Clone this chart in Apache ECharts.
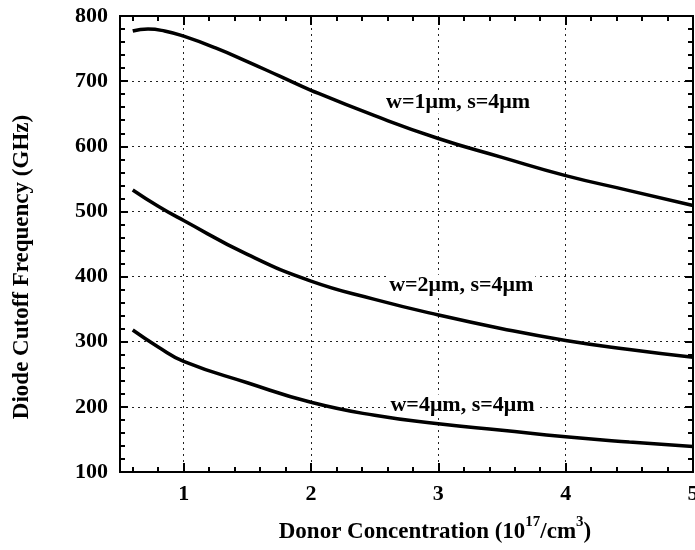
<!DOCTYPE html>
<html>
<head>
<meta charset="utf-8">
<script src="https://cdn.jsdelivr.net/npm/echarts@6/dist/echarts.min.js"></script>
<style>html,body{margin:0;padding:0;background:#fff}#c{width:695px;height:550px}</style>
</head>
<body>
<div id="c"></div>
<script>
// ---- data ----
const xMajorTicks = [1, 2, 3, 4, 5];
const xMinorTicks = [0.6, 0.8, 1.2, 1.4, 1.6, 1.8, 2.2, 2.4, 2.6, 2.8, 3.2, 3.4, 3.6, 3.8, 4.2, 4.4, 4.6, 4.8];
const w1 = [[0.6,777],[0.72,780],[0.85,777],[1,769],[1.25,751],[1.5,730],[1.75,708],[2,686],[2.5,647],[3,612],[3.5,583],[4,555],[4.5,532],[5,509]];
const w2 = [[0.6,533],[0.8,508],[1,486],[1.5,434],[2,393],[2.5,365],[3,341],[3.5,320],[4,302],[4.5,288],[5,276]];
const w4 = [[0.6,318],[0.8,292],[1,270],[1.5,237],[2,207],[2.5,187],[3,174],[3.5,164],[4,154],[4.5,146],[5,139]];
const seriesNames = ['w=1\u03bcm, s=4\u03bcm', 'w=2\u03bcm, s=4\u03bcm', 'w=4\u03bcm, s=4\u03bcm'];
const labelPos = [[3.155, 667], [3.18, 386], [3.19, 202]];

const FONT = '"Liberation Serif", "Times New Roman", serif';
const chart = echarts.init(document.getElementById('c'));

function xAx(pos, ticks, len, opts) {
  return Object.assign({
    type: 'value', position: pos, min: 0.5, max: 5,
    axisLine: { show: true, onZero: false, lineStyle: { color: '#000', width: 2 } },
    axisTick: { show: true, inside: true, length: len, customValues: ticks, lineStyle: { color: '#000', width: 2 } },
    axisLabel: { show: false },
    splitLine: { show: false }
  }, opts || {});
}
function yAx(pos, opts) {
  return Object.assign({
    type: 'value', position: pos, min: 100, max: 800, interval: 100,
    axisLine: { show: true, onZero: false, lineStyle: { color: '#000', width: 2 } },
    axisTick: { show: true, inside: true, length: 8, lineStyle: { color: '#000', width: 2 } },
    minorTick: { show: true, splitNumber: 5, length: 5, lineStyle: { color: '#000', width: 2 } },
    axisLabel: { show: false },
    splitLine: { show: false }
  }, opts || {});
}

const gridStyle = { show: true, lineStyle: { color: '#222', width: 1, type: [2, 4] } };

const lineSeries = [w1, w2, w4].map((d, i) => ({
  type: 'line', name: seriesNames[i], data: d, smooth: true, showSymbol: false, z: 3,
  lineStyle: { color: '#000', width: 3.5 }
}));
const labelSeries = {
  type: 'scatter', z: 1, symbolSize: 0, silent: true,
  itemStyle: { opacity: 1, color: '#000' },
  data: labelPos.map((p, i) => ({ value: p, name: seriesNames[i] })),
  label: { show: true, position: 'inside', opacity: 1, formatter: p => p.name, color: '#000', fontFamily: FONT, fontWeight: 'bold', fontSize: 22, backgroundColor: '#fff', padding: [0, 2] }
};

const option = {
  backgroundColor: '#fff',
  animation: false,
  grid: { left: 120, right: 2, top: 16, bottom: 78, outerBoundsMode: 'none', containLabel: false },
  xAxis: [
    xAx('bottom', xMajorTicks, 9, {
      axisLabel: { show: true, customValues: xMajorTicks, margin: 11, color: '#000', fontFamily: FONT, fontWeight: 'bold', fontSize: 22 },
      splitLine: gridStyle,
      name: 'Donor Concentration (10{sup|17}/cm{sup|3})',
      nameLocation: 'middle', nameGap: 43,
      nameTextStyle: {
        color: '#000', fontFamily: FONT, fontWeight: 'bold', fontSize: 23, lineHeight: 34, padding: [0, 0, 0, 57],
        rich: { sup: { fontSize: 15, fontFamily: FONT, fontWeight: 'bold', color: '#000', verticalAlign: 'top', lineHeight: 15 } }
      }
    }),
    xAx('bottom', xMinorTicks, 5),
    xAx('top', xMajorTicks, 9),
    xAx('top', xMinorTicks, 5)
  ],
  yAxis: [
    yAx('left', {
      axisLabel: { show: true, margin: 12, color: '#000', fontFamily: FONT, fontWeight: 'bold', fontSize: 22 },
      splitLine: gridStyle,
      name: 'Diode Cutoff Frequency (GHz)', nameLocation: 'middle', nameRotate: 90, nameGap: 86,
      nameTextStyle: { color: '#000', fontFamily: FONT, fontWeight: 'bold', fontSize: 23, padding: [0, 46, 0, 0] }
    }),
    yAx('right')
  ],
  series: lineSeries.concat([labelSeries])
};
chart.setOption(option);
</script>
</body>
</html>
